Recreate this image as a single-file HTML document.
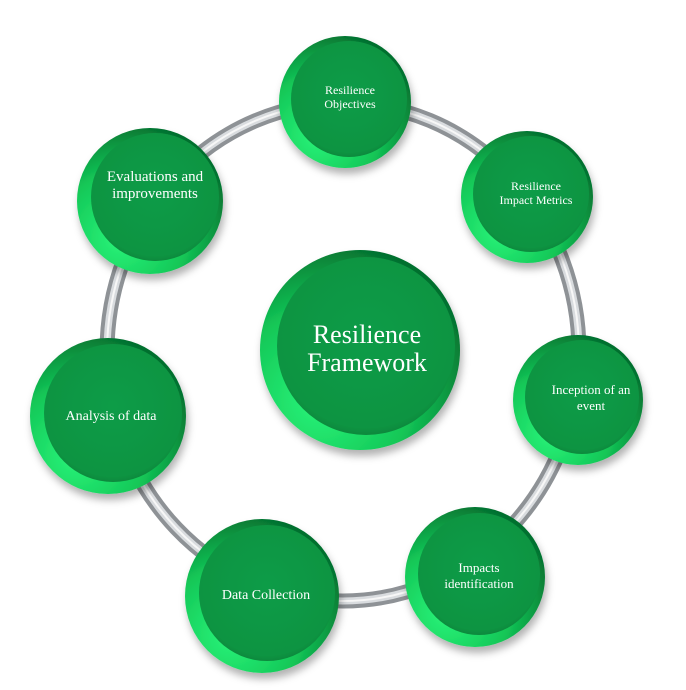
<!DOCTYPE html>
<html><head><meta charset="utf-8"><style>
html,body{margin:0;padding:0;background:#fff;}
svg{display:block}
text{font-family:"Liberation Serif",serif;fill:#fff;text-anchor:middle}
</style></head><body>
<svg width="686" height="690" viewBox="0 0 686 690">
<defs>
<radialGradient id="rim" cx="0.3" cy="0.75" r="0.8">
<stop offset="0" stop-color="#2af57a"/><stop offset="0.55" stop-color="#13c757"/><stop offset="1" stop-color="#05702f"/>
</radialGradient>
<radialGradient id="face" cx="0.5" cy="0.45" r="0.6">
<stop offset="0" stop-color="#0c9c47"/><stop offset="0.85" stop-color="#0a9442"/><stop offset="1" stop-color="#087a36"/>
</radialGradient>
<filter id="sh" x="-20%" y="-20%" width="140%" height="150%"><feDropShadow dx="2" dy="6" stdDeviation="4" flood-color="#000" flood-opacity="0.3"/></filter>
</defs>
<ellipse cx="343" cy="352" rx="236" ry="249" fill="none" stroke="#8e9296" stroke-width="15"/>
<ellipse cx="343" cy="352" rx="236" ry="249" fill="none" stroke="#d9dcdf" stroke-width="7"/>
<ellipse cx="343" cy="352" rx="236" ry="249" fill="none" stroke="#f7f7f7" stroke-width="2"/>
<g filter="url(#sh)">
<circle cx="360" cy="350" r="100" fill="url(#rim)"/><circle cx="366" cy="346" r="89" fill="url(#face)"/>
<circle cx="345" cy="102" r="66" fill="url(#rim)"/><circle cx="349" cy="99" r="58" fill="url(#face)"/>
<circle cx="527" cy="197" r="66" fill="url(#rim)"/><circle cx="531" cy="194" r="58" fill="url(#face)"/>
<circle cx="578" cy="400" r="65" fill="url(#rim)"/><circle cx="582" cy="397" r="57" fill="url(#face)"/>
<circle cx="475" cy="577" r="70" fill="url(#rim)"/><circle cx="479" cy="574" r="61" fill="url(#face)"/>
<circle cx="262" cy="596" r="77" fill="url(#rim)"/><circle cx="267" cy="593" r="68" fill="url(#face)"/>
<circle cx="108" cy="416" r="78" fill="url(#rim)"/><circle cx="113" cy="413" r="69" fill="url(#face)"/>
<circle cx="150" cy="201" r="73" fill="url(#rim)"/><circle cx="155" cy="197" r="64" fill="url(#face)"/>
</g>
<text x="367" y="343" font-size="26">Resilience</text>
<text x="367" y="371" font-size="26">Framework</text>
<text x="350" y="94" font-size="12">Resilience</text>
<text x="350" y="108" font-size="12">Objectives</text>
<text x="536" y="190" font-size="12">Resilience</text>
<text x="536" y="204" font-size="12">Impact Metrics</text>
<text x="591" y="394" font-size="13">Inception of an</text>
<text x="591" y="410" font-size="13">event</text>
<text x="479" y="572" font-size="13">Impacts</text>
<text x="479" y="588" font-size="13">identification</text>
<text x="266" y="599" font-size="14">Data Collection</text>
<text x="111" y="420" font-size="14">Analysis of data</text>
<text x="155" y="181" font-size="15">Evaluations and</text>
<text x="155" y="198" font-size="15">improvements</text>
</svg>
</body></html>
